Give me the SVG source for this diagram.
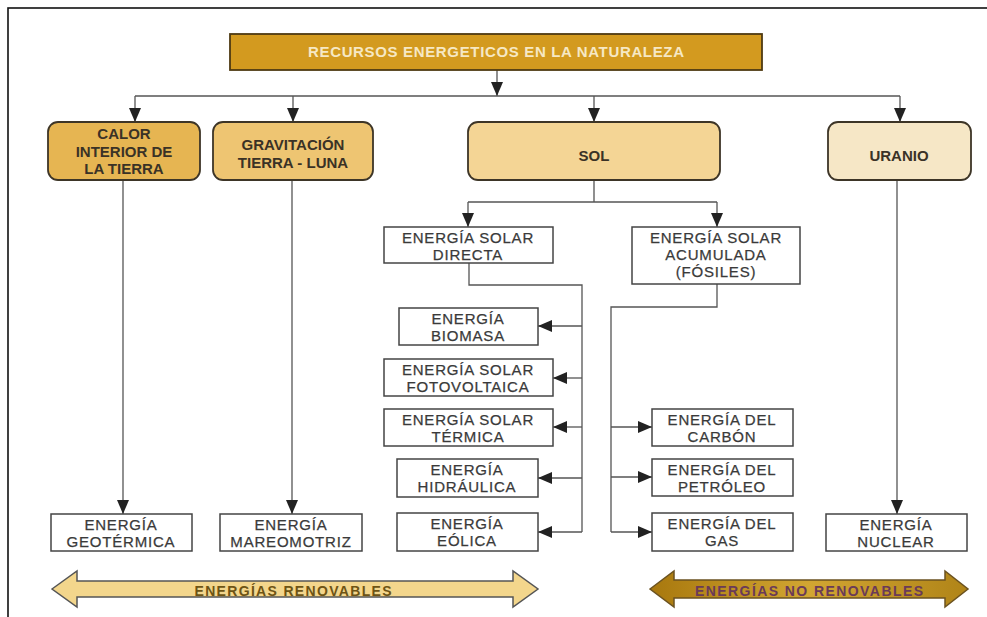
<svg xmlns="http://www.w3.org/2000/svg" width="987" height="617" viewBox="0 0 987 617">
<defs>
<marker id="ah" viewBox="0 0 14 12" refX="14" refY="6" markerWidth="14" markerHeight="12" orient="auto" markerUnits="userSpaceOnUse"><path d="M0,0 L14,6 L0,12 z" fill="#222"/></marker>
<linearGradient id="gNo" x1="0" y1="0" x2="1" y2="0"><stop offset="0" stop-color="#A8780E"/><stop offset="0.5" stop-color="#D2A632"/><stop offset="1" stop-color="#B08418"/></linearGradient>
<style>
.t{font-family:"Liberation Sans",Arial,sans-serif;font-size:15px;letter-spacing:0.8px;fill:#3a3a3a;text-anchor:middle;stroke:#3a3a3a;stroke-width:0.25}
.tb{font-family:"Liberation Sans",Arial,sans-serif;font-size:15px;font-weight:bold;fill:#3a3226;text-anchor:middle}
.box{fill:#fff;stroke:#444;stroke-width:1.5}
.rbox{stroke:#3d3527;stroke-width:1.8}
.c{fill:none;stroke:#555;stroke-width:1.3}
.a{marker-end:url(#ah)}
</style>
</defs>
<rect x="0" y="0" width="987" height="617" fill="#fff"/>
<rect x="8" y="8" width="1000" height="640" fill="#fff" stroke="#111" stroke-width="1.6"/>

<g id="connectors">
<path class="c a" d="M497,70 V96"/>
<path class="c" d="M135,96 H900"/>
<path class="c a" d="M135,96 V122"/>
<path class="c a" d="M293,96 V122"/>
<path class="c a" d="M594,96 V122"/>
<path class="c a" d="M900,96 V122"/>
<path class="c a" d="M123,180 V514"/>
<path class="c a" d="M292,180 V514"/>
<path class="c a" d="M897,180 V514"/>
<path class="c" d="M594,180 V202 M468,202 H717"/>
<path class="c a" d="M468,202 V227"/>
<path class="c a" d="M717,202 V227"/>
<path class="c" d="M469,263 V285 H582 V532"/>
<path class="c a" d="M582,326 H538"/>
<path class="c a" d="M582,378 H553"/>
<path class="c a" d="M582,427 H553"/>
<path class="c a" d="M582,478 H538"/>
<path class="c a" d="M582,532 H538"/>
<path class="c" d="M717,284 V307 H611 V532"/>
<path class="c a" d="M611,427 H652"/>
<path class="c a" d="M611,477 H652"/>
<path class="c a" d="M611,532 H652"/>
</g>

<g id="titulo">
<rect x="230" y="34" width="532" height="36" fill="#D39A1F" stroke="#4e3a12" stroke-width="1.8"/>
<text x="496" y="57" font-family="Liberation Sans, Arial, sans-serif" font-size="15" font-weight="bold" fill="#F6E8C4" text-anchor="middle" textLength="376" lengthAdjust="spacing">RECURSOS ENERGETICOS EN LA NATURALEZA</text>
</g>

<g id="calor">
<rect class="rbox" x="48" y="122" width="152" height="58" rx="10" fill="#E6B552"/>
<text class="tb" x="124" y="139">CALOR</text>
<text class="tb" x="124" y="157">INTERIOR DE</text>
<text class="tb" x="124" y="174">LA TIERRA</text>
</g>
<g id="gravitacion">
<rect class="rbox" x="213" y="122" width="160" height="58" rx="10" fill="#EEC572"/>
<text class="tb" x="293" y="150">GRAVITACIÓN</text>
<text class="tb" x="293" y="168">TIERRA - LUNA</text>
</g>
<g id="sol">
<rect class="rbox" x="468" y="122" width="252" height="58" rx="10" fill="#F4D595"/>
<text class="tb" x="594" y="161">SOL</text>
</g>
<g id="uranio">
<rect class="rbox" x="828" y="122" width="143" height="58" rx="10" fill="#F6E7C6"/>
<text class="tb" x="899" y="161">URANIO</text>
</g>

<g id="solar-directa">
<rect class="box" x="384" y="227" width="169" height="36"/>
<text class="t" x="468" y="243">ENERGÍA SOLAR</text>
<text class="t" x="468" y="260">DIRECTA</text>
</g>
<g id="solar-acumulada">
<rect class="box" x="632" y="227" width="168" height="57"/>
<text class="t" x="716" y="243">ENERGÍA SOLAR</text>
<text class="t" x="716" y="260">ACUMULADA</text>
<text class="t" x="716" y="277">(FÓSILES)</text>
</g>

<g id="biomasa">
<rect class="box" x="399" y="308" width="139" height="37"/>
<text class="t" x="468" y="324">ENERGÍA</text>
<text class="t" x="468" y="341">BIOMASA</text>
</g>
<g id="fotovoltaica">
<rect class="box" x="384" y="359" width="169" height="37"/>
<text class="t" x="468" y="375">ENERGÍA SOLAR</text>
<text class="t" x="468" y="392">FOTOVOLTAICA</text>
</g>
<g id="termica">
<rect class="box" x="384" y="409" width="169" height="37"/>
<text class="t" x="468" y="425">ENERGÍA SOLAR</text>
<text class="t" x="468" y="442">TÉRMICA</text>
</g>
<g id="hidraulica">
<rect class="box" x="397" y="459" width="141" height="38"/>
<text class="t" x="467" y="475">ENERGÍA</text>
<text class="t" x="467" y="492">HIDRÁULICA</text>
</g>
<g id="eolica">
<rect class="box" x="397" y="513" width="141" height="38"/>
<text class="t" x="467" y="529">ENERGÍA</text>
<text class="t" x="467" y="546">EÓLICA</text>
</g>

<g id="carbon">
<rect class="box" x="652" y="409" width="141" height="37"/>
<text class="t" x="722" y="425">ENERGÍA DEL</text>
<text class="t" x="722" y="442">CARBÓN</text>
</g>
<g id="petroleo">
<rect class="box" x="652" y="459" width="141" height="37"/>
<text class="t" x="722" y="475">ENERGÍA DEL</text>
<text class="t" x="722" y="492">PETRÓLEO</text>
</g>
<g id="gas">
<rect class="box" x="652" y="513" width="141" height="38"/>
<text class="t" x="722" y="529">ENERGÍA DEL</text>
<text class="t" x="722" y="546">GAS</text>
</g>

<g id="geotermica">
<rect class="box" x="51" y="514" width="141" height="37"/>
<text class="t" x="121" y="530">ENERGÍA</text>
<text class="t" x="121" y="547">GEOTÉRMICA</text>
</g>
<g id="mareomotriz">
<rect class="box" x="220" y="514" width="142" height="37"/>
<text class="t" x="291" y="530">ENERGÍA</text>
<text class="t" x="291" y="547">MAREOMOTRIZ</text>
</g>
<g id="nuclear">
<rect class="box" x="826" y="514" width="141" height="37"/>
<text class="t" x="896" y="530">ENERGÍA</text>
<text class="t" x="896" y="547">NUCLEAR</text>
</g>

<g id="renovables">
<polygon points="52,589 77,571 77,581 513,581 513,571 538,589 513,607 513,597 77,597 77,607" fill="#F3D68C" stroke="#555" stroke-width="1.5"/>
<text x="293" y="596" font-family="Liberation Sans, Arial, sans-serif" font-size="14" font-weight="bold" fill="#6E5414" text-anchor="middle" textLength="197" lengthAdjust="spacing">ENERGÍAS RENOVABLES</text>
</g>
<g id="no-renovables">
<polygon points="650,589 674,571 674,580 945,580 945,571 968,589 945,607 945,598 674,598 674,607" fill="url(#gNo)" stroke="#6b5220" stroke-width="1.5"/>
<text x="809" y="596" font-family="Liberation Sans, Arial, sans-serif" font-size="14" font-weight="bold" fill="#6A3A58" text-anchor="middle" textLength="228" lengthAdjust="spacing">ENERGÍAS NO RENOVABLES</text>
</g>
</svg>
